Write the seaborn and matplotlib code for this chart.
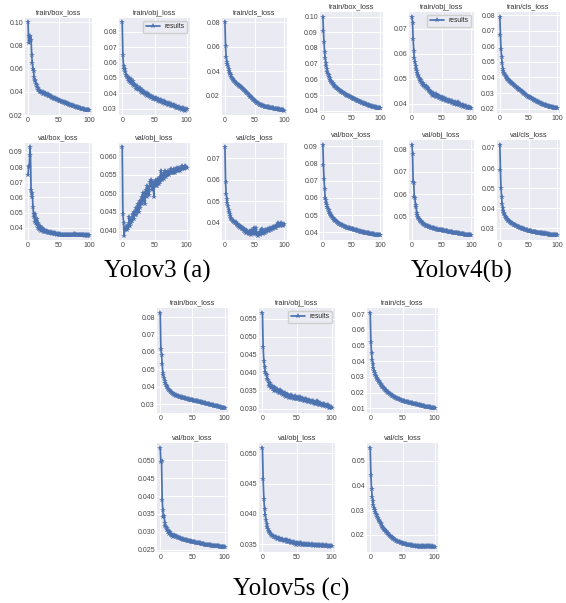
import numpy as np
import matplotlib
matplotlib.use("Agg")
import matplotlib.pyplot as plt
import seaborn as sns

# ---------------- data ----------------
epochs = np.arange(101)
titles = ["train/box_loss", "train/obj_loss", "train/cls_loss",
          "val/box_loss", "val/obj_loss", "val/cls_loss"]
captions = ["Yolov3 (a)", "Yolov4(b)", "Yolov5s (c)"]
legend_label = "results"
x_ticks = [0, 50, 100]

# ---- Yolov3 (a)
a_tr_box = [.1000,.0820,.0880,.0840,.0885,.0850,.0720,.0650,.0600,.0580,
 .0530,.0500,.0490,.0470,.0460,.0440,.0435,.0420,.0415,.0400,
 .0405,.0395,.0400,.0390,.0398,.0385,.0392,.0380,.0388,.0372,
 .0385,.0370,.0378,.0365,.0372,.0360,.0368,.0355,.0362,.0350,
 .0356,.0346,.0350,.0340,.0345,.0336,.0340,.0332,.0335,.0328,
 .0330,.0322,.0325,.0318,.0320,.0314,.0316,.0310,.0312,.0306,
 .0308,.0302,.0304,.0298,.0300,.0295,.0296,.0290,.0292,.0286,
 .0288,.0282,.0283,.0278,.0280,.0275,.0276,.0271,.0272,.0268,
 .0268,.0264,.0265,.0261,.0262,.0258,.0258,.0255,.0255,.0252,
 .0252,.0249,.0250,.0247,.0247,.0245,.0246,.0244,.0245,.0243,
 .0244]
a_tr_obj = [.0860,.0650,.0575,.0560,.0555,.0540,.0520,.0505,.0515,.0495,
 .0480,.0500,.0475,.0490,.0470,.0465,.0480,.0455,.0460,.0445,
 .0455,.0440,.0430,.0445,.0425,.0430,.0420,.0435,.0425,.0410,
 .0420,.0405,.0415,.0400,.0410,.0395,.0405,.0390,.0400,.0385,
 .0395,.0380,.0390,.0375,.0385,.0370,.0378,.0365,.0375,.0362,
 .0372,.0360,.0368,.0355,.0365,.0352,.0360,.0348,.0358,.0345,
 .0355,.0342,.0350,.0338,.0348,.0335,.0345,.0333,.0340,.0330,
 .0338,.0326,.0335,.0323,.0332,.0320,.0328,.0318,.0325,.0315,
 .0322,.0312,.0318,.0308,.0316,.0305,.0312,.0303,.0310,.0300,
 .0308,.0298,.0305,.0293,.0302,.0290,.0300,.0288,.0298,.0292,
 .0300]
a_tr_cls = [.0800,.0610,.0520,.0480,.0460,.0440,.0420,.0405,.0390,.0378,
 .0366,.0355,.0345,.0337,.0330,.0324,.0318,.0313,.0308,.0303,
 .0299,.0295,.0291,.0287,.0283,.0279,.0275,.0271,.0267,.0263,
 .0259,.0254,.0249,.0244,.0239,.0234,.0229,.0224,.0219,.0214,
 .0209,.0204,.0199,.0194,.0189,.0184,.0179,.0174,.0169,.0164,
 .0160,.0156,.0152,.0148,.0144,.0140,.0137,.0134,.0131,.0128,
 .0125,.0123,.0121,.0119,.0117,.0115,.0113,.0112,.0111,.0110,
 .0109,.0108,.0107,.0106,.0105,.0104,.0103,.0102,.0101,.0100,
 .0099,.0098,.0097,.0096,.0095,.0094,.0093,.0092,.0091,.0090,
 .0089,.0088,.0087,.0086,.0085,.0084,.0083,.0082,.0081,.0080,
 .0079]
a_val_box = [.0745,.0800,.0805,.0930,.0880,.0650,.0600,.0630,.0540,.0490,
 .0470,.0440,.0490,.0430,.0420,.0460,.0400,.0430,.0390,.0410,
 .0385,.0400,.0380,.0395,.0378,.0390,.0375,.0385,.0372,.0380,
 .0370,.0378,.0368,.0375,.0366,.0372,.0364,.0370,.0362,.0368,
 .0360,.0366,.0358,.0364,.0357,.0362,.0356,.0360,.0355,.0358,
 .0354,.0357,.0353,.0356,.0352,.0355,.0352,.0354,.0351,.0353,
 .0351,.0352,.0350,.0352,.0350,.0351,.0350,.0351,.0349,.0351,
 .0350,.0351,.0349,.0350,.0352,.0355,.0358,.0356,.0353,.0351,
 .0350,.0351,.0349,.0350,.0349,.0350,.0349,.0350,.0349,.0350,
 .0349,.0350,.0349,.0349,.0348,.0349,.0348,.0349,.0348,.0349,
 .0349]
a_val_obj = [.0625,.0445,.0420,.0385,.0405,.0400,.0402,.0410,.0400,.0405,
 .0420,.0435,.0410,.0420,.0430,.0425,.0440,.0445,.0430,.0450,
 .0440,.0460,.0440,.0450,.0470,.0460,.0450,.0480,.0460,.0475,
 .0490,.0470,.0500,.0480,.0495,.0470,.0500,.0510,.0490,.0520,
 .0500,.0495,.0510,.0530,.0520,.0535,.0510,.0530,.0525,.0490,
 .0525,.0530,.0520,.0535,.0520,.0530,.0540,.0525,.0530,.0545,
 .0560,.0540,.0535,.0550,.0540,.0555,.0550,.0560,.0545,.0550,
 .0555,.0560,.0550,.0555,.0560,.0555,.0565,.0555,.0560,.0555,
 .0565,.0560,.0555,.0565,.0560,.0570,.0560,.0565,.0570,.0560,
 .0565,.0570,.0565,.0575,.0570,.0565,.0570,.0575,.0570,.0572,
 .0570]
a_val_cls = [.0752,.0590,.0535,.0510,.0490,.0475,.0460,.0450,.0440,.0430,
 .0420,.0415,.0410,.0408,.0405,.0402,.0400,.0398,.0400,.0395,
 .0390,.0392,.0385,.0390,.0380,.0385,.0375,.0380,.0370,.0375,
 .0368,.0372,.0360,.0368,.0355,.0362,.0350,.0358,.0348,.0355,
 .0345,.0352,.0345,.0358,.0342,.0350,.0365,.0345,.0352,.0372,
 .0345,.0355,.0375,.0348,.0340,.0352,.0338,.0350,.0345,.0355,
 .0340,.0365,.0350,.0370,.0345,.0358,.0350,.0362,.0352,.0365,
 .0355,.0362,.0358,.0368,.0360,.0370,.0362,.0372,.0365,.0375,
 .0368,.0378,.0370,.0380,.0372,.0378,.0385,.0375,.0390,.0382,
 .0395,.0388,.0392,.0385,.0390,.0395,.0388,.0392,.0385,.0390,
 .0392]

# ---- Yolov4 (b)
b_tr_box = [.1000,.0910,.0840,.0775,.0735,.0705,.0685,.0665,.0650,.0637,
 .0625,.0615,.0606,.0598,.0591,.0585,.0579,.0574,.0569,.0564,
 .0560,.0556,.0552,.0548,.0545,.0542,.0539,.0536,.0533,.0530,
 .0527,.0524,.0522,.0519,.0517,.0514,.0512,.0510,.0507,.0505,
 .0503,.0501,.0499,.0497,.0495,.0493,.0491,.0489,.0487,.0485,
 .0483,.0481,.0479,.0477,.0476,.0474,.0472,.0470,.0469,.0467,
 .0465,.0463,.0462,.0460,.0458,.0457,.0455,.0453,.0452,.0450,
 .0449,.0447,.0446,.0444,.0443,.0441,.0440,.0438,.0437,.0436,
 .0434,.0433,.0432,.0430,.0429,.0428,.0427,.0426,.0425,.0424,
 .0423,.0422,.0421,.0420,.0419,.0418,.0417,.0417,.0416,.0416,
 .0415]
b_tr_obj = [.0748,.0722,.0660,.0612,.0582,.0565,.0552,.0540,.0532,.0524,
 .0516,.0510,.0502,.0498,.0492,.0495,.0486,.0480,.0484,.0476,
 .0470,.0474,.0466,.0470,.0462,.0465,.0458,.0462,.0455,.0452,
 .0446,.0450,.0442,.0447,.0436,.0444,.0432,.0440,.0435,.0430,
 .0438,.0428,.0434,.0426,.0432,.0424,.0430,.0422,.0428,.0420,
 .0426,.0418,.0424,.0416,.0422,.0414,.0420,.0412,.0418,.0410,
 .0416,.0409,.0414,.0407,.0412,.0406,.0410,.0403,.0411,.0402,
 .0408,.0400,.0406,.0398,.0404,.0397,.0402,.0396,.0405,.0394,
 .0400,.0393,.0398,.0391,.0396,.0390,.0394,.0388,.0392,.0387,
 .0390,.0386,.0389,.0384,.0388,.0383,.0386,.0382,.0384,.0381,
 .0382]
b_tr_cls = [.0790,.0670,.0580,.0530,.0490,.0455,.0440,.0430,.0422,.0416,
 .0410,.0404,.0398,.0393,.0388,.0384,.0380,.0376,.0372,.0368,
 .0365,.0362,.0359,.0356,.0353,.0350,.0347,.0344,.0341,.0338,
 .0335,.0332,.0329,.0326,.0323,.0320,.0317,.0314,.0311,.0308,
 .0305,.0302,.0299,.0296,.0293,.0290,.0287,.0284,.0281,.0278,
 .0276,.0274,.0272,.0270,.0268,.0266,.0264,.0262,.0260,.0258,
 .0256,.0254,.0252,.0250,.0248,.0246,.0244,.0242,.0240,.0238,
 .0237,.0235,.0233,.0232,.0230,.0229,.0227,.0226,.0224,.0223,
 .0222,.0220,.0219,.0218,.0216,.0215,.0214,.0213,.0212,.0211,
 .0210,.0209,.0208,.0207,.0206,.0205,.0204,.0204,.0203,.0203,
 .0202]
b_val_box = [.0910,.0790,.0710,.0650,.0600,.0590,.0572,.0560,.0548,.0537,
 .0527,.0518,.0511,.0504,.0498,.0493,.0488,.0484,.0480,.0476,
 .0472,.0469,.0466,.0463,.0460,.0457,.0455,.0453,.0450,.0448,
 .0446,.0444,.0442,.0441,.0439,.0437,.0436,.0434,.0433,.0431,
 .0430,.0429,.0427,.0426,.0425,.0424,.0423,.0422,.0421,.0420,
 .0419,.0418,.0417,.0416,.0415,.0414,.0413,.0412,.0411,.0410,
 .0409,.0408,.0407,.0406,.0405,.0404,.0403,.0403,.0402,.0401,
 .0400,.0399,.0398,.0398,.0397,.0396,.0395,.0395,.0394,.0393,
 .0393,.0392,.0391,.0391,.0390,.0389,.0389,.0388,.0388,.0387,
 .0386,.0386,.0385,.0385,.0384,.0384,.0383,.0383,.0382,.0382,
 .0381]
b_val_obj = [.0820,.0780,.0655,.0650,.0590,.0585,.0542,.0552,.0508,.0516,
 .0500,.0495,.0490,.0488,.0484,.0480,.0478,.0474,.0472,.0470,
 .0467,.0466,.0464,.0462,.0461,.0460,.0459,.0458,.0457,.0456,
 .0455,.0454,.0453,.0452,.0451,.0450,.0449,.0449,.0448,.0447,
 .0446,.0446,.0445,.0444,.0444,.0443,.0443,.0442,.0442,.0441,
 .0441,.0440,.0440,.0439,.0439,.0438,.0438,.0437,.0437,.0436,
 .0436,.0435,.0435,.0434,.0434,.0433,.0433,.0432,.0432,.0431,
 .0431,.0430,.0430,.0429,.0429,.0428,.0428,.0428,.0427,.0427,
 .0426,.0426,.0425,.0425,.0424,.0424,.0423,.0423,.0423,.0422,
 .0422,.0421,.0421,.0421,.0420,.0420,.0420,.0419,.0419,.0419,
 .0418]
b_val_cls = [.0717,.0588,.0500,.0458,.0420,.0400,.0388,.0378,.0370,.0364,
 .0358,.0353,.0349,.0345,.0342,.0339,.0336,.0333,.0331,.0329,
 .0327,.0325,.0323,.0321,.0319,.0318,.0316,.0315,.0313,.0312,
 .0310,.0309,.0308,.0306,.0305,.0304,.0302,.0301,.0300,.0299,
 .0298,.0297,.0296,.0295,.0294,.0293,.0292,.0291,.0290,.0289,
 .0288,.0288,.0287,.0286,.0285,.0285,.0284,.0283,.0283,.0282,
 .0281,.0281,.0280,.0280,.0279,.0279,.0278,.0278,.0277,.0277,
 .0276,.0276,.0275,.0275,.0274,.0274,.0276,.0273,.0275,.0272,
 .0272,.0271,.0271,.0273,.0270,.0270,.0269,.0269,.0268,.0268,
 .0268,.0267,.0267,.0267,.0266,.0266,.0266,.0265,.0265,.0265,
 .0265]

# ---- Yolov5s (c)
c_tr_box = [.0825,.0615,.0582,.0530,.0480,.0465,.0450,.0435,.0422,.0412,
 .0403,.0396,.0389,.0383,.0378,.0374,.0370,.0367,.0364,.0361,
 .0358,.0356,.0354,.0352,.0350,.0348,.0347,.0345,.0344,.0342,
 .0341,.0340,.0339,.0338,.0337,.0336,.0335,.0334,.0333,.0332,
 .0331,.0330,.0329,.0328,.0327,.0326,.0326,.0325,.0324,.0323,
 .0322,.0321,.0320,.0320,.0319,.0318,.0317,.0316,.0315,.0314,
 .0313,.0312,.0311,.0310,.0309,.0308,.0307,.0306,.0305,.0305,
 .0304,.0303,.0302,.0301,.0300,.0299,.0298,.0297,.0296,.0295,
 .0294,.0293,.0292,.0291,.0290,.0289,.0288,.0287,.0287,.0286,
 .0285,.0284,.0283,.0282,.0281,.0280,.0279,.0279,.0278,.0277,
 .0276]
c_tr_obj = [.0566,.0470,.0432,.0415,.0402,.0396,.0392,.0382,.0378,.0372,
 .0362,.0370,.0364,.0358,.0362,.0354,.0360,.0350,.0356,.0352,
 .0348,.0354,.0346,.0350,.0344,.0352,.0342,.0348,.0340,.0346,
 .0338,.0344,.0336,.0342,.0332,.0340,.0334,.0338,.0330,.0336,
 .0332,.0337,.0329,.0335,.0330,.0333,.0327,.0334,.0328,.0331,
 .0326,.0332,.0327,.0330,.0325,.0331,.0324,.0329,.0323,.0328,
 .0322,.0327,.0321,.0326,.0320,.0325,.0319,.0324,.0318,.0322,
 .0317,.0321,.0316,.0320,.0315,.0319,.0314,.0318,.0313,.0322,
 .0312,.0318,.0311,.0316,.0310,.0314,.0309,.0313,.0308,.0312,
 .0307,.0311,.0306,.0310,.0304,.0309,.0303,.0307,.0302,.0305,
 .0301]
c_tr_cls = [.0710,.0525,.0450,.0410,.0380,.0358,.0340,.0326,.0314,.0304,
 .0295,.0287,.0280,.0273,.0266,.0260,.0254,.0248,.0243,.0238,
 .0233,.0228,.0223,.0218,.0214,.0210,.0206,.0202,.0198,.0195,
 .0192,.0189,.0186,.0183,.0180,.0177,.0175,.0172,.0170,.0168,
 .0166,.0164,.0162,.0160,.0158,.0156,.0154,.0152,.0150,.0149,
 .0147,.0146,.0144,.0143,.0142,.0141,.0140,.0139,.0138,.0137,
 .0136,.0135,.0134,.0133,.0132,.0131,.0130,.0129,.0128,.0127,
 .0126,.0125,.0124,.0123,.0122,.0121,.0120,.0119,.0118,.0117,
 .0116,.0115,.0114,.0113,.0112,.0111,.0110,.0109,.0108,.0108,
 .0107,.0106,.0105,.0105,.0104,.0103,.0102,.0102,.0101,.0100,
 .0100]
c_val_box = [.0535,.0495,.0497,.0390,.0360,.0340,.0345,.0325,.0315,.0312,
 .0305,.0310,.0300,.0303,.0295,.0298,.0290,.0294,.0288,.0292,
 .0286,.0290,.0287,.0289,.0285,.0287,.0284,.0285,.0282,.0283,
 .0281,.0282,.0280,.0280,.0279,.0279,.0278,.0278,.0277,.0277,
 .0276,.0276,.0275,.0275,.0274,.0274,.0273,.0273,.0272,.0272,
 .0271,.0271,.0270,.0270,.0270,.0269,.0269,.0268,.0268,.0268,
 .0267,.0267,.0267,.0266,.0266,.0266,.0265,.0265,.0265,.0264,
 .0264,.0264,.0263,.0263,.0263,.0262,.0262,.0262,.0262,.0261,
 .0261,.0261,.0261,.0260,.0260,.0260,.0260,.0259,.0259,.0259,
 .0259,.0259,.0258,.0258,.0258,.0258,.0258,.0257,.0257,.0257,
 .0257]
c_val_obj = [.0509,.0457,.0425,.0408,.0398,.0390,.0383,.0378,.0375,.0372,
 .0370,.0368,.0367,.0365,.0364,.0363,.0362,.0361,.0362,.0360,
 .0361,.0359,.0360,.0358,.0360,.0357,.0359,.0357,.0358,.0356,
 .0357,.0355,.0357,.0355,.0356,.0354,.0356,.0354,.0355,.0353,
 .0355,.0352,.0354,.0352,.0353,.0351,.0353,.0350,.0352,.0349,
 .0351,.0350,.0352,.0349,.0351,.0350,.0351,.0349,.0350,.0348,
 .0350,.0349,.0350,.0348,.0350,.0349,.0349,.0348,.0350,.0348,
 .0349,.0348,.0350,.0347,.0349,.0348,.0349,.0347,.0349,.0348,
 .0348,.0347,.0349,.0347,.0348,.0347,.0348,.0346,.0348,.0347,
 .0347,.0346,.0348,.0346,.0347,.0346,.0347,.0345,.0347,.0346,
 .0347]
c_val_cls = [.0552,.0443,.0385,.0355,.0335,.0320,.0310,.0300,.0292,.0285,
 .0278,.0272,.0266,.0261,.0256,.0251,.0246,.0242,.0237,.0233,
 .0229,.0225,.0221,.0218,.0214,.0211,.0208,.0205,.0202,.0199,
 .0196,.0194,.0191,.0189,.0187,.0185,.0183,.0181,.0179,.0178,
 .0176,.0175,.0173,.0172,.0171,.0170,.0169,.0168,.0167,.0166,
 .0165,.0164,.0164,.0163,.0162,.0162,.0161,.0160,.0160,.0159,
 .0158,.0158,.0157,.0157,.0156,.0158,.0155,.0156,.0154,.0155,
 .0153,.0154,.0153,.0152,.0156,.0152,.0153,.0152,.0151,.0155,
 .0153,.0152,.0154,.0151,.0155,.0152,.0154,.0151,.0153,.0155,
 .0152,.0154,.0151,.0153,.0152,.0151,.0153,.0150,.0151,.0150,
 .0150]

# y tick labels
a_yticks = [[0.02, 0.04, 0.06, 0.08, 0.10], [0.03, 0.04, 0.05, 0.06, 0.07, 0.08],
            [0.02, 0.04, 0.06, 0.08], [0.04, 0.05, 0.06, 0.07, 0.08, 0.09],
            [0.040, 0.045, 0.050, 0.055, 0.060], [0.04, 0.05, 0.06, 0.07]]
b_yticks = [[0.04, 0.05, 0.06, 0.07, 0.08, 0.09, 0.10], [0.04, 0.05, 0.06, 0.07],
            [0.02, 0.03, 0.04, 0.05, 0.06, 0.07, 0.08], [0.04, 0.05, 0.06, 0.07, 0.08, 0.09],
            [0.05, 0.06, 0.07, 0.08], [0.03, 0.04, 0.05, 0.06, 0.07]]
c_yticks = [[0.03, 0.04, 0.05, 0.06, 0.07, 0.08], [0.030, 0.035, 0.040, 0.045, 0.050, 0.055],
            [0.01, 0.02, 0.03, 0.04, 0.05, 0.06, 0.07], [0.025, 0.030, 0.035, 0.040, 0.045, 0.050],
            [0.035, 0.040, 0.045, 0.050], [0.02, 0.03, 0.04, 0.05]]

panels = [
    ([a_tr_box, a_tr_obj, a_tr_cls, a_val_box, a_val_obj, a_val_cls], a_yticks),
    ([b_tr_box, b_tr_obj, b_tr_cls, b_val_box, b_val_obj, b_val_cls], b_yticks),
    ([c_tr_box, c_tr_obj, c_tr_cls, c_val_box, c_val_obj, c_val_cls], c_yticks),
]

# ---------------- layout (pixels) ----------------
W, H = 566, 603
layouts = [
    dict(cols=[(25, 92), (119, 190), (222, 287)], rows=[(18, 115), (143, 240)], cap=(157, 271)),
    dict(cols=[(320, 383), (409, 474), (497, 560)], rows=[(12, 113), (140, 240)], cap=(462, 271)),
    dict(cols=[(157, 228), (259, 335), (367, 438)], rows=[(308, 413), (443, 552)], cap=(291, 589)),
]

sns.set_theme(style="darkgrid")
plt.rcParams["font.family"] = ["Liberation Sans", "DejaVu Sans"]

fig = plt.figure(figsize=(W / 100, H / 100), dpi=100)
color = sns.color_palette("deep")[0]

for k, ((series, yticks), lay) in enumerate(zip(panels, layouts)):
    for i, (ys, title, yt) in enumerate(zip(series, titles, yticks)):
        r, c = divmod(i, 3)
        (l, rr), (t, b) = lay["cols"][c], lay["rows"][r]
        ax = fig.add_axes([l / W, 1 - b / H, (rr - l) / W, (b - t) / H])
        sns.lineplot(x=epochs, y=ys, ax=ax, color=color, marker="*",
                     markersize=4.0, markeredgewidth=0, linewidth=1.25,
                     label=legend_label, legend=False)
        ax.set_title(title, fontsize=5.3, pad=2.5, color="#333333")
        ax.set_xticks(x_ticks)
        ax.set_yticks(yt)
        ax.tick_params(labelsize=5.0, pad=1.5, length=0, colors="#444444")
        ax.grid(True, color="white", linewidth=0.7)
        ax.set_xlabel("")
        ax.set_ylabel("")
        for s in ax.spines.values():
            s.set_visible(False)
        if i == 1:
            ax.legend(loc="upper right", fontsize=4.9, handlelength=2.2,
                      borderpad=0.4, handletextpad=0.6, framealpha=0.9,
                      borderaxespad=0.4)
    cx, cy = lay["cap"]
    fig.text(cx / W, 1 - cy / H, captions[k],
             family=["Liberation Serif", "DejaVu Serif"], fontsize=18,
             ha="center", va="center", color="black")

fig.savefig("out.png", dpi=100)
